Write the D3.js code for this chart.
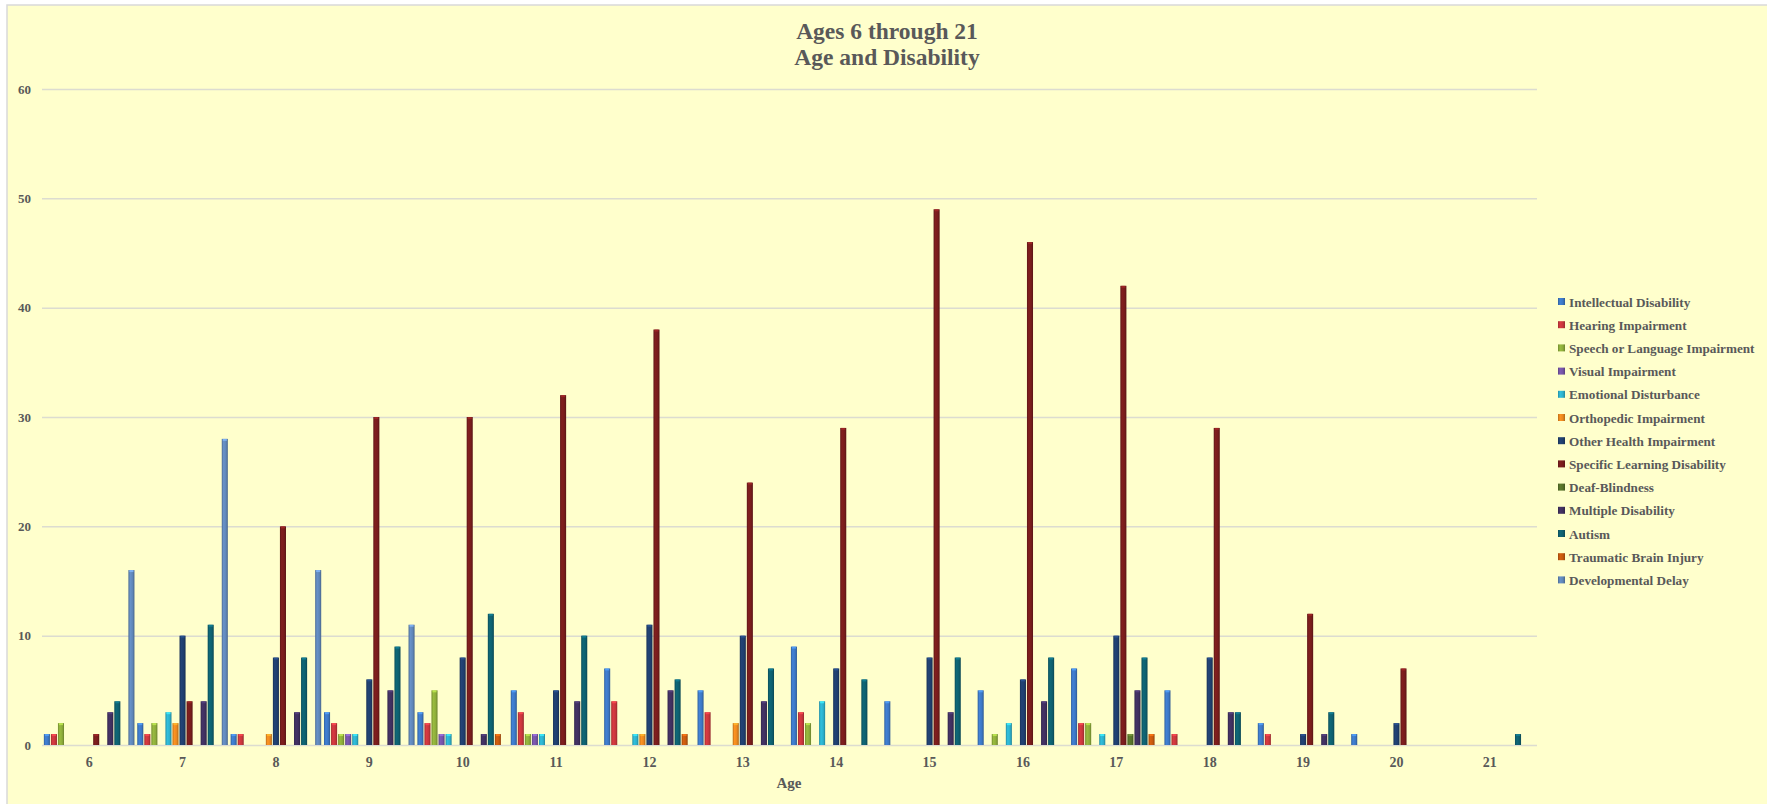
<!DOCTYPE html>
<html>
<head>
<meta charset="utf-8">
<script src="https://cdn.jsdelivr.net/npm/d3@7"></script>
<style>
  body { margin: 0; background: #ffffff; }
  svg { display: block; }
  text { font-family: "Liberation Serif", "Times New Roman", serif; font-weight: bold; fill: #595959; }
</style>
</head>
<body>
<div id="visContainer"></div>
<script>
'use strict';

// categories, series, tick labels
var ages = ['6','7','8','9','10','11','12','13','14','15','16','17','18','19','20','21'];
var seriesNames = ['Intellectual Disability','Hearing Impairment','Speech or Language Impairment',
  'Visual Impairment','Emotional Disturbance','Orthopedic Impairment','Other Health Impairment',
  'Specific Learning Disability','Deaf-Blindness','Multiple Disability','Autism',
  'Traumatic Brain Injury','Developmental Delay'];
var yTicks = [0,10,20,30,40,50,60];

// one array per series, values for ages 6..21
var intellectual = [1,2,1,3,3,5,7,5,9,4,5,7,5,2,1,0];
var hearing      = [1,1,1,2,2,3,4,3,3,0,0,2,1,1,0,0];
var speech       = [2,2,0,1,5,1,0,0,2,0,1,2,0,0,0,0];
var visual       = [0,0,0,1,1,1,0,0,0,0,0,0,0,0,0,0];
var emotional    = [0,3,0,1,1,1,1,0,4,0,2,1,0,0,0,0];
var orthopedic   = [0,2,1,0,0,0,1,2,0,0,0,0,0,0,0,0];
var otherHealth  = [0,10,8,6,8,5,11,10,7,8,6,10,8,1,2,0];
var learning     = [1,4,20,30,30,32,38,24,29,49,46,42,29,12,7,0];
var deafBlind    = [0,0,0,0,0,0,0,0,0,0,0,1,0,0,0,0];
var multiple     = [3,4,3,5,1,4,5,4,0,3,4,5,3,1,0,0];
var autism       = [4,11,8,9,12,10,6,7,6,8,8,8,3,3,0,1];
var tbi          = [0,0,0,0,1,0,1,0,0,0,0,1,0,0,0,0];
var devDelay     = [16,28,16,11,0,0,0,0,0,0,0,0,0,0,0,0];

var seriesValues = [intellectual, hearing, speech, visual, emotional, orthopedic, otherHealth,
  learning, deafBlind, multiple, autism, tbi, devDelay];
var colors = ['#3c77c4','#c7363c','#8dac3a','#7453a6','#2db0cb','#e8871f','#1f3e6d',
  '#771c1c','#57712a','#3f2f5e','#0e5f6e','#c4580e','#5f86b8'];

var width = 1767, height = 804;
var plot = {left: 42, right: 1537, top: 89, bottom: 745};

var svg = d3.select('#visContainer').append('svg')
  .attr('width', width).attr('height', height);

// chart background
svg.append('rect').attr('x', 7).attr('y', 5).attr('width', width).attr('height', height)
  .attr('fill', '#ffffcc').attr('stroke', '#d9d9d9').attr('stroke-width', 1.5);

// gradients for the bevelled bars
var defs = svg.append('defs');
colors.forEach(function(c, i){
  var g = defs.append('linearGradient').attr('id', 'grad' + i)
    .attr('x1', 0).attr('x2', 1).attr('y1', 0).attr('y2', 0);
  g.append('stop').attr('offset', '0%').attr('stop-color', d3.color(c).darker(0.6));
  g.append('stop').attr('offset', '30%').attr('stop-color', d3.color(c).brighter(0.25));
  g.append('stop').attr('offset', '70%').attr('stop-color', c);
  g.append('stop').attr('offset', '100%').attr('stop-color', d3.color(c).darker(0.8));
});

var x0 = d3.scaleBand().domain(ages).range([plot.left, plot.right])
  .paddingInner(0.03).paddingOuter(0.02);
var x1 = d3.scaleBand().domain(d3.range(seriesNames.length)).range([0, x0.bandwidth()])
  .paddingInner(0.14);
var y = d3.scaleLinear().domain([0, 60]).range([plot.bottom, plot.top]);

// gridlines and y labels
var yAxis = d3.axisLeft(y).tickValues(yTicks)
  .tickSize(-(plot.right - plot.left)).tickPadding(11);
var yg = svg.append('g').attr('transform', 'translate(' + plot.left + ',0)').call(yAxis);
yg.select('.domain').remove();
yg.selectAll('line').attr('stroke', '#dcdcd0').attr('stroke-width', 1.5);
yg.selectAll('text').style('font-size', '13px').style('fill', '#595959');

// x labels
var xAxis = d3.axisBottom(x0).tickSize(0).tickPadding(12);
var xg = svg.append('g').attr('transform', 'translate(0,' + plot.bottom + ')').call(xAxis);
xg.select('.domain').remove();
xg.selectAll('text').style('font-size', '14px').style('fill', '#595959');

// bars
var table = ages.map(function(a, j){
  return {age: a, vals: seriesValues.map(function(s){ return s[j]; })};
});

var groups = svg.selectAll('g.age').data(table).enter().append('g')
  .attr('class', 'age')
  .attr('transform', function(d){ return 'translate(' + x0(d.age) + ',0)'; });

var bars = groups.selectAll('g.bar')
  .data(function(d){ return d.vals.map(function(v, i){ return {i: i, v: v}; }).filter(function(e){ return e.v > 0; }); })
  .enter().append('g').attr('class', 'bar');

bars.append('rect')
  .attr('x', function(d){ return x1(d.i); })
  .attr('y', function(d){ return y(d.v); })
  .attr('width', x1.bandwidth())
  .attr('height', function(d){ return y(0) - y(d.v); })
  .attr('fill', function(d){ return 'url(#grad' + d.i + ')'; });

// small highlight cap on the bevel top
bars.append('rect')
  .attr('x', function(d){ return x1(d.i) + 1; })
  .attr('y', function(d){ return y(d.v); })
  .attr('width', x1.bandwidth() - 2)
  .attr('height', 2)
  .attr('fill', function(d){ return d3.color(colors[d.i]).brighter(0.9); })
  .attr('opacity', 0.8);

// titles
svg.append('text').attr('x', 887).attr('y', 39).attr('text-anchor', 'middle')
  .style('font-size', '23.5px').text('Ages 6 through 21');
svg.append('text').attr('x', 887).attr('y', 65).attr('text-anchor', 'middle')
  .style('font-size', '23.5px').text('Age and Disability');
svg.append('text').attr('x', 789).attr('y', 788).attr('text-anchor', 'middle')
  .style('font-size', '15px').text('Age');

// legend
var legend = svg.selectAll('g.legend').data(seriesNames).enter().append('g')
  .attr('class', 'legend')
  .attr('transform', function(d, i){ return 'translate(1558,' + (302 + i * 23.2) + ')'; });
legend.append('rect').attr('x', 0).attr('y', -4).attr('width', 7).attr('height', 7)
  .attr('fill', function(d, i){ return 'url(#grad' + i + ')'; });
legend.append('text').attr('x', 11).attr('y', 4.5)
  .style('font-size', '13.2px').text(function(d){ return d; });
</script>
</body>
</html>
